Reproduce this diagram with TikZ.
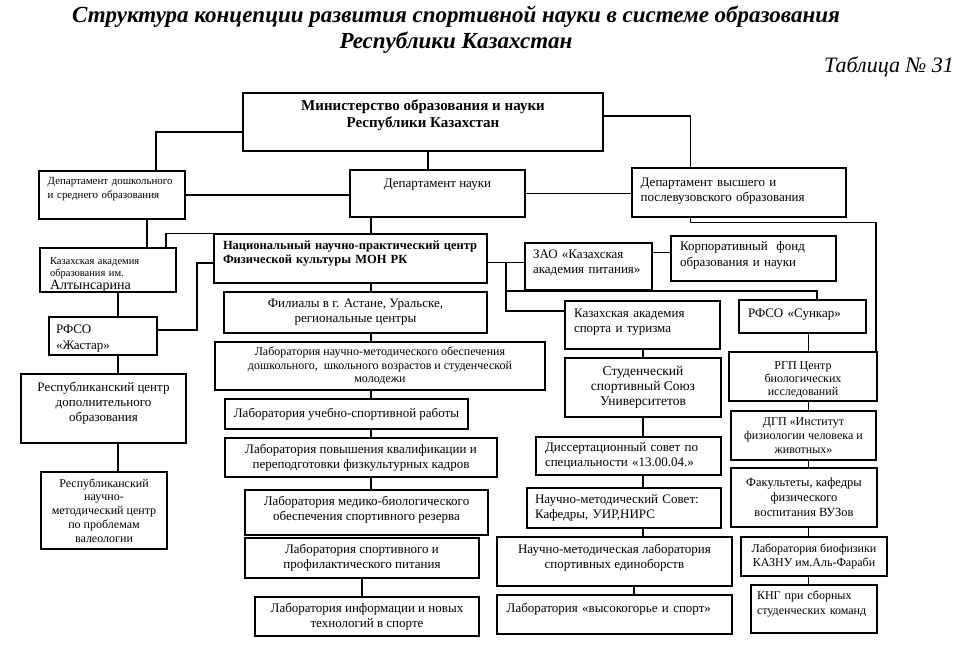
\documentclass[tikz,border=0pt]{standalone}
\usepackage{fontspec}
\setmainfont{Liberation Serif}
\tikzset{
  box/.style={draw, line width=1.2pt, inner sep=3pt, align=center, font=\fontsize{13}{15}\selectfont},
  lbox/.style={box, align=left},
  link/.style={line width=1.2pt}
}
\begin{document}
\begin{tikzpicture}[x=1pt,y=-1pt]
\useasboundingbox (0,0) rectangle (960,648);

% title
\node[font=\bfseries\itshape\fontsize{23}{26}\selectfont, align=center] (title) at (456,29.5) {Структура концепции развития спортивной науки в системе образования\\Республики Казахстан};
\node[font=\itshape\fontsize{22}{24}\selectfont] (tabno) at (889,67) {Таблица № 31};

% ministry and departments
\node[box, minimum width=360, minimum height=58, font=\bfseries\fontsize{15}{17}\selectfont, text depth=16pt] (min) at (423,122) {Министерство образования и науки\\Республики Казахстан};
\node[lbox, text width=128.6, inner xsep=8.7, minimum height=48, font=\fontsize{10.9}{14.3}\selectfont, text depth=29pt] (dpre) at (112,195) {Департамент дошкольного\\и среднего образования};
\node[box, minimum width=175, minimum height=47, text depth=21pt] (dsci) at (437.5,193.5) {Департамент науки};
\node[lbox, text width=196.6, inner xsep=8.7, minimum height=49, text depth=20pt] (dhigh) at (739,192.5) {Департамент высшего и\\послевузовского образования};

% left column
\node[lbox, text width=116, inner xsep=10, minimum height=44, font=\fontsize{10.5}{12}\selectfont, text depth=18pt] (kae) at (108,270) {Казахская академия\\образования им.\\[1pt]{\fontsize{14}{14}\selectfont Алтынсарина}};
\node[lbox, text width=94, inner xsep=7, minimum height=38, font=\fontsize{13}{16}\selectfont, text depth=14pt] (zhastar) at (103,336) {РФСО\\«Жастар»};
\node[box, minimum width=165, minimum height=69, text depth=14pt] (rcdo) at (103.5,408.5) {Республиканский центр\\дополнительного\\образования};
\node[box, minimum width=126, minimum height=77, font=\fontsize{12}{13.75}\selectfont] (rnmc) at (104,510.5) {Республиканский\\научно-\\методический центр\\по проблемам\\валеологии};

% national centre and laboratories
\node[lbox, text width=255, inner xsep=9, minimum height=49, font=\bfseries\fontsize{12.5}{13.5}\selectfont, text depth=26pt] (nnpc) at (350.5,258.5) {Национальный научно-практический центр\\Физической культуры МОН РК};
\node[box, minimum width=263, minimum height=41] (fil) at (355.5,312.5) {Филиалы в г. Астане, Уральске,\\региональные центры};
\node[box, minimum width=330, minimum height=48, font=\fontsize{12}{13.5}\selectfont] (lnmo) at (380,366) {Лаборатория научно-методического обеспечения\\дошкольного,\ \ школьного возрастов и студенческой\\молодежи};
\node[box, minimum width=243, minimum height=30] (luch) at (346.5,414) {Лаборатория учебно-спортивной работы};
\node[box, minimum width=272, minimum height=39] (lqual) at (361,457.5) {Лаборатория повышения квалификации и\\переподготовки физкультурных кадров};
\node[box, minimum width=243, minimum height=45, text depth=8pt] (lmed) at (366.5,512.5) {Лаборатория медико-биологического\\обеспечения спортивного резерва};
\node[box, minimum width=234, minimum height=40] (lpit) at (362,558) {Лаборатория спортивного и\\профилактического питания};
\node[box, minimum width=224, minimum height=39] (linf) at (367,616.5) {Лаборатория информации и новых\\технологий в спорте};

% middle right column
\node[lbox, text width=111, inner xsep=8, minimum height=47, text depth=25pt] (zao) at (588.5,266.5) {ЗАО «Казахская\\академия питания»};
\node[lbox, text width=147, inner xsep=9, minimum height=45, font=\fontsize{13}{16}\selectfont, text depth=26pt] (korp) at (753.5,258.5) {Корпоративный\ \ фонд\\образования и науки};
\node[lbox, text width=137, inner xsep=9, minimum height=48, text depth=24pt] (kast) at (642.5,325) {Казахская академия\\спорта и туризма};
\node[box, minimum width=156, minimum height=59, font=\fontsize{13.5}{15}\selectfont] (ssu) at (643,387.5) {Студенческий\\спортивный Союз\\Университетов};
\node[lbox, text width=167, inner xsep=9, minimum height=38, font=\fontsize{13}{15.5}\selectfont] (diss) at (628.5,456) {Диссертационный совет по\\специальности «13.00.04.»};
\node[lbox, text width=178, inner xsep=8, minimum height=40, font=\fontsize{13}{14.5}\selectfont] (nms) at (624,508) {Научно-методический Совет:\\Кафедры, УИР,НИРС};
\node[box, minimum width=235, minimum height=49, text depth=10pt] (nml) at (614.5,561.5) {Научно-методическая лаборатория\\спортивных единоборств};
\node[lbox, text width=215.6, inner xsep=9.7, minimum height=39, text depth=14pt] (lhigh) at (614.5,614.5) {Лаборатория «высокогорье и спорт»};

% right column
\node[lbox, text width=109, inner xsep=9, minimum height=33, text depth=7pt] (sunkar) at (802.5,316.5) {РФСО «Сункар»};
\node[box, minimum width=148, minimum height=49, font=\fontsize{12}{13}\selectfont, text height=40pt] (rgp) at (803,376.5) {РГП Центр\\биологических\\исследований};
\node[box, minimum width=145, minimum height=49, font=\fontsize{12}{14}\selectfont] (dgp) at (803.5,435.5) {ДГП «Институт\\физиологии человека и\\животных»};
\node[box, minimum width=146, minimum height=59, font=\fontsize{12.5}{15}\selectfont] (fak) at (804,497.5) {Факультеты, кафедры\\физического\\воспитания ВУЗов};
\node[box, minimum width=146, minimum height=39, font=\fontsize{12}{14}\selectfont] (bio) at (814,556.5) {Лаборатория биофизики\\КАЗНУ им.Аль-Фараби};
\node[lbox, text width=114, inner xsep=6, minimum height=48, font=\fontsize{12}{14.7}\selectfont, text depth=27pt] (kng) at (814,609) {КНГ при сборных\\студенческих команд};

% bends of the connectors
\coordinate (ja) at (156,132);
\coordinate (jb) at (428,160);
\coordinate (jc) at (690.5,116);
\coordinate (jf) at (147,230);
\coordinate (jg) at (118,300);
\coordinate (jh) at (166,235);
\coordinate (ji) at (197,263);
\coordinate (jk) at (197,330);
\coordinate (jm) at (371,300);
\coordinate (jp) at (362,590);
\coordinate (jn) at (506,262.5);
\coordinate (jo) at (506,311);
\coordinate (js) at (817,291);
\coordinate (jl) at (660,252.5);
\coordinate (jr) at (643,430);
\coordinate (jq) at (634,590);
\coordinate (jt) at (808.5,400);
\coordinate (ju) at (690.5,222.5);
\coordinate (jv) at (876,222.5);

% connectors
\draw[link] (min.west |- ja) -| (dpre.north -| ja);
\draw[link] (min.south -| jb) -- (dsci.north -| jb);
\draw[link] (min.east |- jc) -| (dhigh.north -| jc);
\draw[link] (dpre.east) -- (dpre.east -| dsci.west);
\draw[link] (dsci.east) -- (dsci.east -| dhigh.west);
\draw[link] (dpre.south -| jf) -- (kae.north -| jf);
\foreach \a/\b in {kae/zhastar, zhastar/rcdo, rcdo/rnmc}
  \draw[link] (\a.south -| jg) -- (\b.north -| jg);
\draw[link] (nnpc.north west) -| (kae.north -| jh);
\draw[link] (nnpc.west |- ji) -- (ji) -- (jk) -- (zhastar.east |- jk);
\foreach \a/\b in {dsci/nnpc, nnpc/fil, fil/lnmo, lnmo/luch, luch/lqual, lqual/lmed}
  \draw[link] (\a.south -| jm) -- (\b.north -| jm);
\draw[link] (lpit.south -| jp) -- (linf.north -| jp);
\draw[link] (nnpc.east |- jn) -- (zao.west |- jn);
\draw[link] (jn) -- (jo) -- (kast.west |- jo);
\draw[link] (jn |- js) -| (sunkar.north -| js);
\draw[link] (zao.east |- jl) -- (korp.west |- jl);
\foreach \a/\b in {kast/ssu, ssu/diss, diss/nms, nms/nml}
  \draw[link] (\a.south -| jr) -- (\b.north -| jr);
\draw[link] (nml.south -| jq) -- (lhigh.north -| jq);
\foreach \a/\b in {sunkar/rgp, rgp/dgp, dgp/fak, fak/bio, bio/kng}
  \draw[link] (\a.south -| jt) -- (\b.north -| jt);
\draw[link] (dhigh.south -| ju) -- (ju) -- (jv) -- (rgp.north -| jv);
\end{tikzpicture}
\end{document}
